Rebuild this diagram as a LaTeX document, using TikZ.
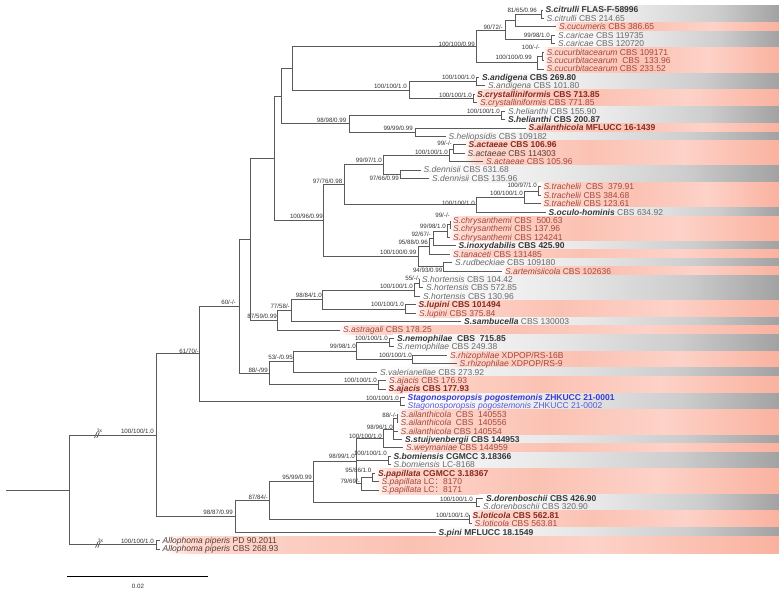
\documentclass[tikz,border=0pt]{standalone}
\usepackage{fontspec}
\setmainfont{Liberation Sans}
\newfontfamily\cjk{Noto Sans CJK SC}
\definecolor{treegray}{HTML}{5A5A5A}
\definecolor{gtext}{HTML}{6A6A6A}
\definecolor{gdark}{HTML}{383838}
\definecolor{ptext}{HTML}{A4463B}
\definecolor{pdark}{HTML}{872A20}
\definecolor{pgrey}{HTML}{5A3A36}
\definecolor{bluet}{HTML}{3A3AD2}
\definecolor{bluel}{HTML}{5858DA}
\definecolor{stext}{HTML}{333333}
\definecolor{pinkA}{HTML}{FDD8CF}
\definecolor{pinkB}{HTML}{FBC2B3}
\definecolor{pinkC}{HTML}{FDD2C8}
\definecolor{pinkD}{HTML}{FAB29F}
\definecolor{grayA}{HTML}{E8E8E8}
\definecolor{grayB}{HTML}{CDCDCD}
\definecolor{grayC}{HTML}{A2A2A2}
\pgfdeclarehorizontalshading{gband}{100bp}{color(0bp)=(white); color(25bp)=(white); color(45bp)=(grayA); color(62bp)=(grayB); color(75bp)=(grayC); color(100bp)=(grayC)}
\pgfdeclarehorizontalshading{pband}{100bp}{color(0bp)=(white); color(25bp)=(white); color(27bp)=(pinkA); color(45bp)=(pinkB); color(60bp)=(pinkC); color(75bp)=(pinkD); color(100bp)=(pinkD)}
\newcommand{\taxfont}{\fontsize{8.5}{9}\selectfont}
\newcommand{\supfont}{\fontsize{6.2}{7}\selectfont}
\newcommand{\sn}[1]{\textit{#1}}
\newcommand{\bsn}[1]{{\bfseries\itshape\color{gdark}#1}}
\newcommand{\lcsep}{LC{\cjk ：}}

\begin{document}
\begin{tikzpicture}[x=1pt,y=-1pt,
    branch/.style={draw=treegray,line width=0.75pt},
    tipg/.style={anchor=base west,inner sep=0pt,xshift=3pt,yshift=-3pt,font=\taxfont,text=gtext},
    tipgb/.style={tipg,font=\taxfont\bfseries,text=gdark},
    tipp/.style={tipg,text=ptext},
    tippd/.style={tipg,text=pgrey},
    tippb/.style={tipg,font=\taxfont\bfseries,text=pdark},
    tipb/.style={tipg,font=\taxfont\bfseries,text=bluet},
    tipbl/.style={tipg,text=bluel},
    supp/.style={anchor=base east,inner sep=0pt,yshift=-2.2pt,font=\supfont,text=stext}]
    \useasboundingbox (0,0) rectangle (779,594);
    \foreach \a/\b/\x/\k in {0/1/541/gband,2/2/553/pband,3/4/554/gband,5/7/542/pband,8/9/478/gband,10/11/473/pband,
        12/13/504/gband,14/14/524/pband,15/15/444/gband,16/18/463/pband,19/20/419/gband,21/23/539/pband,
        24/24/544/gband,25/27/448/pband,28/28/454/gband,29/29/448/pband,30/30/451/gband,31/31/501/pband,
        32/34/418/gband,35/36/414/pband,37/37/460/gband,38/38/338/pband,39/40/393/gband,41/42/446/pband,
        43/43/376/gband,44/45/384/pband,46/47/403/gband,48/50/396/pband,51/51/401/gband,52/52/402/pband,
        53/54/389/gband,55/57/374/pband,58/59/479/gband,60/61/468/pband,62/62/434/gband,63/64/165/pband}{
        \shade[shading=\k] (\x,{10+8.42*\a-4.21}) rectangle (779,{10+8.42*\b+4.21});
    }
    \foreach \n/\x/\y in {root/69/489.88,ingrp/156/435.09,allo/156/544.67,c6170/199.3/353.855,c9887/235/516.32,
        c60/239.3/306.18,pogo/400/401.53,hub/250/239.25,c88/269.3/373.11,up/274.3/158.27,c8759/277.7/320.225,
        top/281.7/95.91,top2/292.7/68.15,cucu/476/46.31,c9072/505/30.0,citcuc/515/20.525,citr/541/14.21,
        cari/551/39.47,cbt/537/62.625,cbt2/542/56.31,andcry/409.3/89.99,andi/476.7/81.57,crys/473.5/98.41,
        c9898/349/123.67,heli/501.5/115.25,ailh/415/132.09,c10096/323.3/220.63,c9776/344.3/184.715,
        c9997/383.3/164.72,acta/449.5/155.245,acta2/453.5/148.93,denn/400/174.19,trocu/476.7/204.71,
        trac/524.5/197.345,trac2/538/191.03,c100b/418.3/256.55,c9588/429.3/246.285,c9267/433/238.39,
        chry/447.5/231.025,chry2/450/224.71,rudart/443.5/266.81,c7758/291/310.49,c9884/322.7/299.44,
        hort/414/289.965,hort2/419/283.65,lupi/405.5/308.91,c53/293.3/361.535,c9998/356.7/351.01,
        nemo/389.3/342.59,rhiz/412.5/359.43,ajac/378/384.69,c8784/269.3/500.6,c9599/313.3/481.785,
        c9899/356.7/461.0,c100v/383/438.37,c9896/393.5/428.895,ailc/397.5/418.37,bomi/388/460.47,
        papi/361/483.625,papi2/372/477.31,dore/476/502.57,loti/469.5/519.41}{
        \coordinate (\n) at (\x,\y);
    }
    \coordinate (r0) at (6,489.88);
    \draw[branch] (r0) -- (root);
    \foreach \a/\b in {root/ingrp,root/allo,ingrp/c6170,ingrp/c9887,c6170/c60,c6170/pogo,c60/hub,c60/c88,
        hub/up,hub/c8759,up/top,up/c10096,top/top2,top/c9898,top2/cucu,top2/andcry,cucu/c9072,cucu/cbt,
        c9072/citcuc,c9072/cari,citcuc/citr,cbt/cbt2,andcry/andi,andcry/crys,c9898/heli,c9898/ailh,
        c10096/c9776,c10096/c100b,c9776/c9997,c9776/trocu,c9997/acta,c9997/denn,acta/acta2,trocu/trac,
        trac/trac2,c100b/c9588,c100b/rudart,c9588/c9267,c9267/chry,chry/chry2,c8759/c7758,c7758/c9884,
        c9884/hort,c9884/lupi,hort/hort2,c88/c53,c88/ajac,c53/c9998,c9998/nemo,c9998/rhiz,c9887/c8784,
        c8784/c9599,c8784/loti,c9599/c9899,c9599/dore,c9899/c100v,c9899/bomi,c9899/papi,c100v/c9896,
        c9896/ailc,papi/papi2}{
        \draw[branch] (\a) |- (\b);
    }
    \foreach \i/\e/\p/\s/\f in {
        0/542.5/citr/tipgb/{\sn{S.citrulli} FLAS-F-58996},
        1/543.5/citr/tipg/{\sn{S.citrulli} CBS 214.65},
        2/556/citcuc/tipp/{\sn{S.cucumeris} CBS 386.65},
        3/555/cari/tipg/{\sn{S.caricae} CBS 119735},
        4/555/cari/tipg/{\sn{S.caricae} CBS 120720},
        5/543.5/cbt2/tipp/{\sn{S.cucurbitacearum} CBS 109171},
        6/543.5/cbt2/tipp/{\sn{S.cucurbitacearum}\ \ CBS\ \ 133.96},
        7/543.5/cbt/tipp/{\sn{S.cucurbitacearum} CBS 233.52},
        8/479/andi/tipgb/{\sn{S.andigena} CBS 269.80},
        9/485/andi/tipg/{\sn{S.andigena} CBS 101.80},
        10/474/crys/tippb/{\sn{S.crystalliniformis} CBS 713.85},
        11/477/crys/tipp/{\sn{S.crystalliniformis} CBS 771.85},
        12/505/heli/tipg/{\sn{S.helianthi} CBS 155.90},
        13/505/heli/tipgb/{\sn{S.helianthi} CBS 200.87},
        14/525.5/ailh/tippb/{\sn{S.ailanthicola} MFLUCC 16-1439},
        15/445.5/ailh/tipg/{\sn{S.heliopsidis} CBS 109182},
        16/465.5/acta2/tippb/{\sn{S.actaeae} CBS 106.96},
        17/464.5/acta2/tippd/{\sn{S.actaeae} CBS 114303},
        18/483/acta/tipp/{\sn{S.actaeae} CBS 105.96},
        19/420.5/denn/tipg/{\sn{S.dennisii} CBS 631.68},
        20/429/denn/tipg/{\sn{S.dennisii} CBS 135.96},
        21/540.5/trac2/tipp/{\sn{S.trachelii}\ \ CBS\ \ 379.91},
        22/540.5/trac2/tipp/{\sn{S.trachelii} CBS 384.68},
        23/540.5/trac/tipp/{\sn{S.trachelii} CBS 123.61},
        24/545.5/trocu/tipg/{\bsn{S.oculo-hominis} CBS 634.92},
        25/450/chry2/tipp/{\sn{S.chrysanthemi} CBS\ \ 500.63},
        26/450/chry2/tipp/{\sn{S.chrysanthemi} CBS 137.96},
        27/450/chry/tipp/{\sn{S.chrysanthemi} CBS 124241},
        28/455.5/c9267/tipgb/{\sn{S.inoxydabilis} CBS 425.90},
        29/450/c9588/tipp/{\sn{S.tanaceti} CBS 131485},
        30/452/rudart/tipg/{\sn{S.rudbeckiae} CBS 109180},
        31/502/rudart/tipp/{\sn{S.artemisiicola} CBS 102636},
        32/419/hort2/tipg/{\sn{S.hortensis} CBS 104.42},
        33/423/hort2/tipg/{\sn{S.hortensis} CBS 572.85},
        34/420/hort/tipg/{\sn{S.hortensis} CBS 130.96},
        35/415.5/lupi/tippb/{\sn{S.lupini} CBS 101494},
        36/416/lupi/tipp/{\sn{S.lupini} CBS 375.84},
        37/461/c7758/tipg/{\bsn{S.sambucella} CBS 130003},
        38/340/c8759/tipp/{\sn{S.astragali} CBS 178.25},
        39/394/nemo/tipgb/{\sn{S.nemophilae}\ \ CBS\ \ 715.85},
        40/394/nemo/tipg/{\sn{S.nemophilae} CBS 249.38},
        41/447/rhiz/tipp/{\sn{S.rhizophilae} XDPOP/RS-16B},
        42/456.5/rhiz/tipp/{\sn{S.rhizophilae} XDPOP/RS-9},
        43/377/c53/tipg/{\sn{S.valerianellae} CBS 273.92},
        44/386/ajac/tipp/{\sn{S.ajacis} CBS 176.93},
        45/385.5/ajac/tippb/{\sn{S.ajacis} CBS 177.93},
        46/404.5/pogo/tipb/{\sn{Stagonosporopsis pogostemonis} ZHKUCC 21-0001},
        47/404.5/pogo/tipbl/{\sn{Stagonosporopsis pogostemonis} ZHKUCC 21-0002},
        48/397.5/ailc/tipp/{\sn{S.ailanthicola}\ \ CBS\ \ 140553},
        49/397.5/ailc/tipp/{\sn{S.ailanthicola}\ \ CBS\ \ 140556},
        50/397.5/c9896/tipp/{\sn{S.ailanthicola} CBS 140554},
        51/402/c9896/tipgb/{\sn{S.stuijvenbergii} CBS 144953},
        52/403/c100v/tipp/{\sn{S.weymaniae} CBS 144959},
        53/390.5/bomi/tipgb/{\sn{S.bomiensis} CGMCC 3.18366},
        54/390.5/bomi/tipg/{\sn{S.bomiensis} LC-8168},
        55/375/papi2/tippb/{\sn{S.papillata} CGMCC 3.18367},
        56/378.5/papi2/tipp/{\sn{S.papillata}\ \lcsep 8170},
        57/378.5/papi/tipp/{\sn{S.papillata}\ \lcsep 8171},
        58/483/dore/tipgb/{\sn{S.dorenboschii} CBS 426.90},
        59/480/dore/tipg/{\sn{S.dorenboschii} CBS 320.90},
        60/469.5/loti/tippb/{\sn{S.loticola} CBS 562.81},
        61/471.5/loti/tipp/{\sn{S.loticola} CBS 563.81},
        62/435.5/c9887/tipgb/{\sn{S.pini} MFLUCC 18.1549},
        63/159.5/allo/tippd/{\sn{Allophoma piperis} PD 90.2011},
        64/159.5/allo/tippd/{\sn{Allophoma piperis} CBS 268.93}}{
        \coordinate (t\i) at (\e,{10+8.42*\i});
        \draw[branch] (\p) |- (t\i);
        \node[\s] (l\i) at (t\i) {\f};
    }
    \foreach[count=\n] \x/\y/\t in {537/10/{81/65/0.96},503/27/{90/72/-},550/35/{99/98/1.0},475/44/{100/100/0.99},
        540/47.3/{100/-/-},532/57.3/{100/100/0.99},475/77.7/{100/100/1.0},407/86/{100/100/1.0},472/95/{100/100/1.0},
        500/111.5/{100/100/1.0},346.5/120/{98/98/0.99},413/128/{99/99/0.99},452/143.3/{99/-/-},448/152.3/{100/100/1.0},
        382/160.7/{99/97/1.0},399/178.3/{97/66/0.99},342.5/181.5/{97/76/0.98},537/185.7/{100/97/1.0},
        523/193.5/{100/100/1.0},475/203.3/{100/100/1.0},450/215.5/{99/-/-},323/216.7/{100/96/0.99},
        446/226/{99/98/1.0},431/234.3/{92/67/-},428/242.5/{95/88/0.96},416.5/252.5/{100/100/0.99},
        442.5/269.8/{94/93/0.99},420/278/{55/-/-},413/286.5/{100/100/1.0},322/295/{98/84/1.0},
        404/304.5/{100/100/1.0},236/302.7/{60/-/-},290/306/{77/58/-},277/316.7/{87/59/0.99},
        388/338.3/{100/100/1.0},356/346.7/{99/98/1.0},199/351/{61/70/-},412/355/{100/100/1.0},
        293/357.7/{53/-/0.95},268/370/{88/-/99},377/380/{100/100/1.0},399/398.3/{100/100/1.0},
        397/415.5/{88/-/-},393/427.5/{98/96/1.0},382/436/{100/100/1.0},154/431.5/{100/100/1.0},
        387/453.3/{100/100/1.0},355/456.7/{98/99/1.0},371.5/470.7/{95/86/1.0},312/477.3/{95/99/0.99},
        360/481.7/{79/69/-},268/497/{87/84/-},473/499/{100/100/1.0},233/512.7/{98/87/0.99},
        469/515.7/{100/100/1.0},154/541/{100/100/1.0}}{
        \node[supp] (s\n) at (\x,\y) {\t};
    }
    \node[supp,anchor=base,font=\fontsize{5}{5}\selectfont] (k1) at (99.5,430) {3x};
    \node[supp,anchor=base,font=\fontsize{5}{5}\selectfont] (k2) at (100.5,540) {3x};
    \draw[branch] (94.5,438) -- (97,432.2);
    \draw[branch] (96.8,438) -- (99.3,432.2);
    \draw[branch] (95.5,547.6) -- (98,541.8);
    \draw[branch] (97.8,547.6) -- (100.3,541.8);
    \coordinate (sb1) at (67,576.7);
    \coordinate (sb2) at (208,576.7);
    \draw[line width=0.8pt,black] (sb1) -- (sb2);
    \node[supp,anchor=base] (sbl) at (138,586.5) {0.02};
\end{tikzpicture}
\end{document}
